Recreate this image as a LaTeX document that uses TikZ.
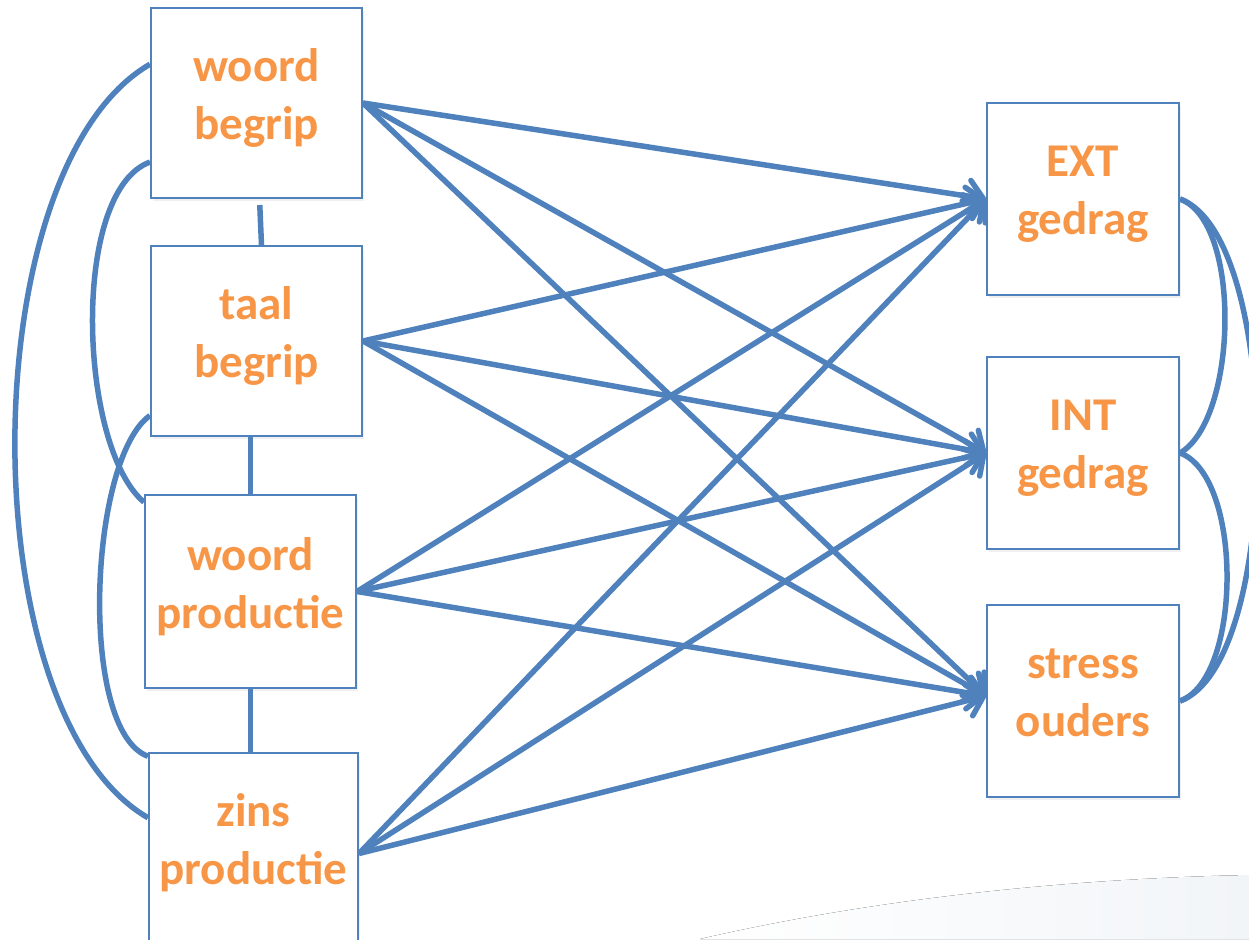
\documentclass[tikz,border=0pt]{standalone}
\usepackage{fontspec}
\setmainfont{Carlito}
\usetikzlibrary{positioning, arrows.meta, shadows}
\definecolor{lineblue}{HTML}{4F81BD}
\definecolor{labelorange}{HTML}{F79646}
\definecolor{swoosh}{HTML}{F2F5F8}

\begin{document}
\begin{tikzpicture}
% style
	[x=1pt, y=-1pt,
	box/.style={rectangle, draw=lineblue, fill=white, line width=2pt, inner sep=0pt, align=center, text=labelorange, font=\fontsize{47}{58}\selectfont\bfseries, execute at begin node=\strut, execute at end node=\strut, drop shadow={opacity=0.12, shadow xshift=1.5pt, shadow yshift=-3pt}},
	predictor/.style={box, minimum width=211pt, minimum height=190pt},
	outcome/.style={box, minimum width=192pt, minimum height=192pt},
	link/.style={lineblue, line width=5.5pt},
	effect/.style={link, -{Straight Barb[length=15pt, width=32pt, round]}}]

	\useasboundingbox (0,0) rectangle (1249,939);
	\clip (0,0) rectangle (1249,939);
	\fill[left color=white, right color=swoosh] (700,939) .. controls (900,893) and (1100,878) .. (1249,875) -- (1249,939) -- cycle;

	% predictors
	\node [predictor] (wb) at (256.5,103) {woord\\begrip};
	\node [predictor, node distance=46pt] (tb) [below=of wb] {taal\\begrip};
	\node [predictor, node distance=57pt, minimum height=193pt] (wp) [below=of tb, xshift=-6pt] {woord\\productie};
	\node [predictor, node distance=63pt, minimum width=209pt] (zp) [below=of wp, xshift=3pt] {zins\\productie};

	% outcomes
	\node [outcome] (ext) at (1083,199) {EXT\\gedrag};
	\node [outcome, node distance=60pt] (int) [below=of ext] {INT\\gedrag};
	\node [outcome, node distance=54pt] (so) [below=of int] {stress\\ouders};

	% correlations
	\path[link] ([xshift=3pt]wb.south) edge[shorten <=6pt] ([xshift=5pt]tb.north)
	            (tb.south -| wp.north) edge (wp.north)
	            (wp.south) edge (wp.south |- zp.north);
	\path[link] (wb.160) edge[out=210, in=150, looseness=0.7] (zp.164)
	            (wb.209) edge[out=200, in=140, looseness=0.64] (wp.140)
	            (tb.215) edge[out=215, in=160, looseness=0.56] (zp.139)
	            (ext.east) edge[out=340, in=30, looseness=0.67] (int.east)
	            (int.east) edge[out=340, in=20, looseness=0.69] (so.east)
	            (ext.east) edge[out=340, in=20, looseness=0.56] (so.east);

	% effects
	\path[effect] (wb.east) edge (ext.west) edge (int.west) edge (so.177)
	              (tb.east) edge (ext.west) edge (int.west) edge (so.177)
	              (wp.east) edge (ext.west) edge (int.west) edge (so.177)
	              (zp.-3) edge (ext.west) edge (int.west) edge (so.177);
\end{tikzpicture}
\end{document}
